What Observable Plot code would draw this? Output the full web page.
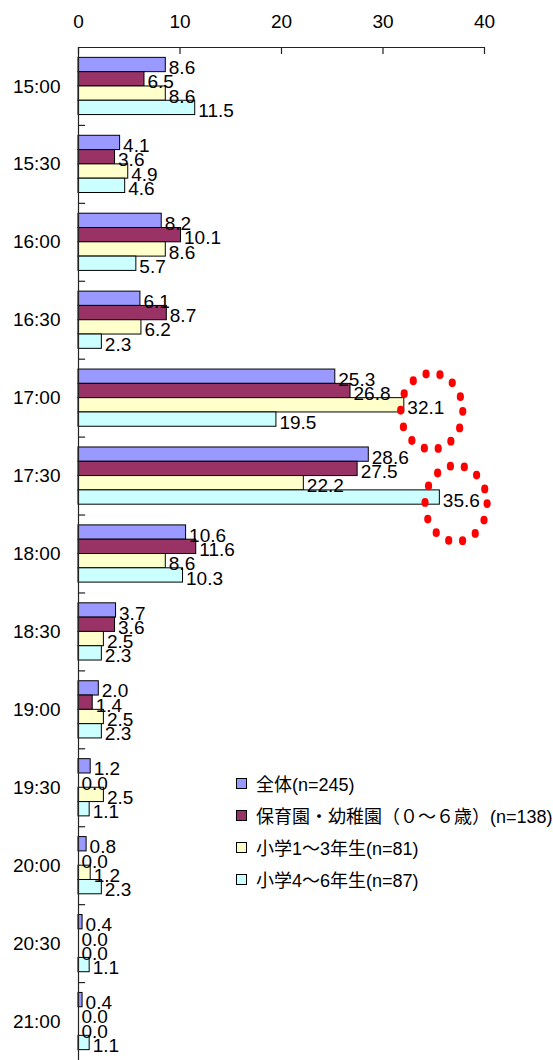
<!DOCTYPE html>
<html><head><meta charset="utf-8">
<script src="https://cdn.jsdelivr.net/npm/d3@7"></script>
<script src="https://cdn.jsdelivr.net/npm/@observablehq/plot@0.6"></script>
<style>
body{margin:0;background:#fff;}
#wrap{position:relative;width:553px;height:1060px;overflow:hidden;}
#legend{position:absolute;left:236px;top:767px;font-family:"Liberation Sans","Noto Sans CJK JP",sans-serif;font-size:18px;color:#000;}
.row{display:flex;align-items:center;height:32px;white-space:nowrap;}
.sw{width:9px;height:9px;border:1px solid #000;margin-right:9px;flex:none;}
</style></head><body><div id="wrap"></div>
<script>
const times = ["15:00","15:30","16:00","16:30","17:00","17:30","18:00","18:30","19:00","19:30","20:00","20:30","21:00"];
const seriesNames = ["全体(n=245)","保育園・幼稚園（０～６歳）(n=138)","小学1～3年生(n=81)","小学4～6年生(n=87)"];
const colors = ["#9999FF","#993366","#FFFFCC","#CCFFFF"];
const zentai  = [8.6, 4.1, 8.2, 6.1, 25.3, 28.6, 10.6, 3.7, 2.0, 1.2, 0.8, 0.4, 0.4];
const hoiku   = [6.5, 3.6, 10.1, 8.7, 26.8, 27.5, 11.6, 3.6, 1.4, 0.0, 0.0, 0.0, 0.0];
const grade13 = [8.6, 4.9, 8.6, 6.2, 32.1, 22.2, 8.6, 2.5, 2.5, 2.5, 1.2, 0.0, 0.0];
const grade46 = [11.5, 4.6, 5.7, 2.3, 19.5, 35.6, 10.3, 2.3, 2.3, 1.1, 2.3, 1.1, 1.1];
const seriesValues = [zentai, hoiku, grade13, grade46];
const xTicks = [0, 10, 20, 30, 40];
const highlightTimes = ["17:00", "17:30"];
const highlightSeries = [2, 3];
const highlightX = [34.8, 37.2];

const W = 553, H = 1060, mt = 47, mb = 0, ml = 78, mr = 69;
const bw = (H - mt - mb) / times.length;
const barH = 14.3;
const outer = (bw - 4 * barH) / 2;
const rows = times.flatMap((t, i) => seriesNames.map((s, j) => ({time: t, series: s, idx: j, value: seriesValues[j][i]})));

const marks = [];
seriesNames.forEach((s, j) => {
  const d = rows.filter(r => r.idx === j);
  marks.push(Plot.barX(d, {y: "time", x: "value", fill: colors[j], stroke: "#000", strokeWidth: 1,
    insetTop: outer + j * barH, insetBottom: outer + (3 - j) * barH}));
});
seriesNames.forEach((s, j) => {
  const d = rows.filter(r => r.idx === j);
  marks.push(Plot.text(d, {y: "time", x: "value", text: r => r.value.toFixed(1), dx: 3,
    dy: -bw / 2 + outer + (j + 0.5) * barH + 3, textAnchor: "start", fontSize: 19, fill: "#000"}));
});
// axes lines and ticks
marks.push(Plot.ruleX([0], {stroke: "#222", strokeWidth: 1.2}));
marks.push(Plot.ruleY([times[0]], {y: d => d, dy: -bw / 2, stroke: "#222", strokeWidth: 1.2}));
marks.push(Plot.ruleY(times.slice(1), {y: d => d, dy: -bw / 2, x1: 0, x2: 0.7, stroke: "#222", strokeWidth: 1.2}));
marks.push(Plot.tickX(xTicks, {x: d => d, y: () => times[0], insetBottom: bw - 7, stroke: "#222", strokeWidth: 1.2}));
// highlight dotted ellipses
highlightTimes.forEach((t, k) => {
  marks.push(Plot.dot([{time: t, x: highlightX[k]}], {x: "x", y: "time",
    dy: -bw / 2 + outer + (highlightSeries[k] + 0.5) * barH + 6,
    r: 34.5, fill: "none", stroke: "#FF0000", strokeWidth: 8, strokeDasharray: "0 15.6", strokeLinecap: "round"}));
});

const chart = Plot.plot({
  width: W, height: H, marginTop: mt, marginBottom: mb, marginLeft: ml, marginRight: mr,
  style: {fontFamily: '"Liberation Sans", "Noto Sans CJK JP", sans-serif', fontSize: "19px", background: "white", overflow: "visible", color: "#000"},
  x: {domain: [0, 40], axis: "top", ticks: xTicks, tickSize: 0, tickPadding: 20, label: null, tickFormat: d => String(d)},
  y: {domain: times, padding: 0, round: false, axis: "left", tickSize: 0, tickPadding: 18, label: null},
  marks
});
chart.querySelectorAll('g[aria-label="dot"] circle').forEach(c => {
  c.style.transformBox = "fill-box";
  c.style.transformOrigin = "center";
  c.style.transform = "scale(0.9,1.1)";
});
const wrap = document.getElementById("wrap");
wrap.appendChild(chart);
const legend = document.createElement("div");
legend.id = "legend";
seriesNames.forEach((s, j) => {
  const row = document.createElement("div");
  row.className = "row";
  const sw = document.createElement("span");
  sw.className = "sw";
  sw.style.background = colors[j];
  const tx = document.createElement("span");
  tx.textContent = s;
  row.appendChild(sw); row.appendChild(tx);
  legend.appendChild(row);
});
wrap.appendChild(legend);
</script></body></html>
